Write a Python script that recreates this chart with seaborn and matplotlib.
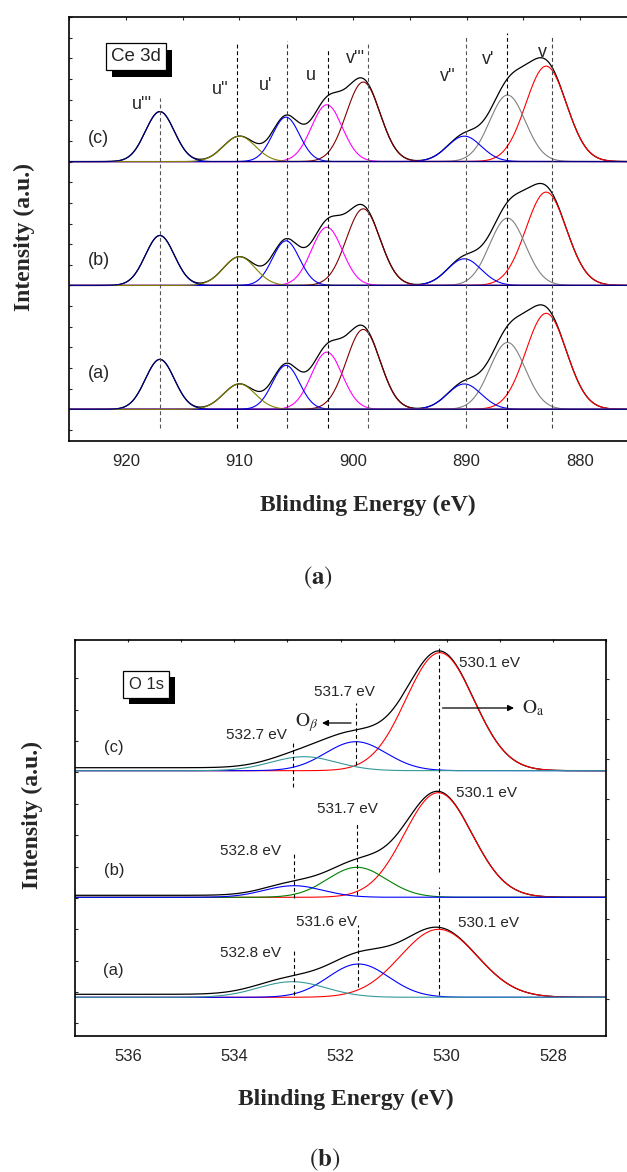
import numpy as np
import pandas as pd
import matplotlib
matplotlib.use('Agg')
import matplotlib.pyplot as plt
import seaborn as sns
from matplotlib.ticker import MultipleLocator, FixedLocator, NullFormatter
from matplotlib.patches import Rectangle

sns.set_theme(style='white')
plt.rcParams['font.family'] = ['Liberation Sans', 'DejaVu Sans']
plt.rcParams['mathtext.fontset'] = 'stix'

# ---------------- Ce 3d data ----------------
ce_labels = ["u'''", "u''", "u'", "u", "v'''", "v''", "v'", "v"]
ce_centers = [917.0, 910.0, 905.9, 902.3, 899.1, 890.2, 886.4, 883.0]
ce_fwhm = [3.0, 3.3, 2.8, 3.2, 3.5, 3.5, 3.7, 4.2]
ce_heights_a = [2.42, 1.23, 2.13, 2.77, 3.87, 1.23, 3.24, 4.65]
ce_heights_b = [2.42, 1.39, 2.16, 2.82, 3.71, 1.29, 3.26, 4.52]
ce_heights_c = [2.42, 1.23, 2.15, 2.75, 3.85, 1.23, 3.22, 4.62]
ce_baselines = [1.0, 7.0, 13.0]          # (a), (b), (c)
ce_sample_names = ['(a)', '(b)', '(c)']
ce_colors = ['#000080', '#808000', '#0000FF', '#FF00FF', '#800000', '#0000FF', '#808080', '#FF0000']
ce_line_pos = [916.99, 910.23, 905.83, 902.24, 898.68, 890.05, 886.46, 882.48]
ce_line_top = [16.08, 18.79, 18.84, 18.40, 18.74, 19.03, 19.22, 19.03]
ce_line_colors = ['#555555', '#000000', '#333333', '#000000', '#555555', '#555555', '#000000', '#444444']
ce_label_x = [918.57, 911.7, 907.66, 903.7, 899.82, 891.64, 888.12, 883.36]
ce_label_y = [15.74, 16.51, 16.66, 17.19, 18.01, 17.14, 17.92, 18.30]

# ---------------- O 1s data ----------------
o_sample_names = ['(a)', '(b)', '(c)']
o_baselines = [38.4, 138.4, 265.0]
o_centers = [[530.15, 531.66, 532.91], [530.16, 531.69, 532.88], [530.13, 531.71, 532.69]]
o_heights = [[68.0, 33.3, 15.6], [104.6, 30.0, 11.6], [118.0, 29.0, 14.0]]
o_fwhm = [[1.7, 1.35, 1.5], [1.5, 1.3, 1.3], [1.5, 1.35, 1.45]]
o_colors = [['#FF0000', '#0000FF', '#339999'], ['#FF0000', '#008000', '#0000FF'], ['#FF0000', '#0000FF', '#339999']]
o_bg = [3.0, 2.0, 3.0]
o_peak_labels = [['530.1 eV', '531.6 eV', '532.8 eV'], ['530.1 eV', '531.7 eV', '532.8 eV'], ['530.1 eV', '531.7 eV', '532.7 eV']]
o_line_pos = [[530.15, 531.67, 532.88], [530.15, 531.69, 532.88], [530.15, 531.71, 532.90]]
o_line_y0 = [[40.7, 48.7, 40.7], [163.7, 140.7, 137.7], [263.7, 270.7, 249.0]]
o_line_y1 = [[148.7, 110.7, 86.7], [272.7, 212.7, 181.7], [390.7, 332.7, 294.0]]
o_label_x = [[529.79, 532.27, 533.69], [529.82, 531.86, 533.70], [529.77, 531.92, 533.59]]
o_label_y = [[112.7, 113.7, 82.7], [243.0, 226.7, 184.7], [373.0, 344.0, 300.7]]
o_label_ha = ['left', 'center', 'center']
o_name_y = [64.7, 165.7, 288.7]


def gauss(x, c, h, fwhm):
    s = fwhm / 2.3548
    return h * np.exp(-0.5 * ((x - c) / s) ** 2)


def shadow_box(fig, ax, txt, dx, dy):
    """Add a black drop-shadow rectangle behind a text's bbox (offset in pixels)."""
    fig.canvas.draw()
    bb = txt.get_bbox_patch().get_window_extent()
    inv = ax.transData.inverted()
    (x0, y0) = inv.transform((bb.x0 + dx, bb.y0 - dy))
    (x1, y1) = inv.transform((bb.x1 + dx, bb.y1 - dy))
    ax.add_patch(Rectangle((x0, y0), x1 - x0, y1 - y0, fc='black', ec='black', lw=0, zorder=4))


W, H = 627, 1172
fig = plt.figure(figsize=(W / 100, H / 100), dpi=100)

# ====== top panel (Ce 3d) ======
L1, R1, T1, B1 = 69, 667, 17, 441
ax1 = fig.add_axes([L1 / W, 1 - B1 / H, (R1 - L1) / W, (B1 - T1) / H])
E1 = np.linspace(872.0, 925.5, 1400)
ce_heights = [ce_heights_a, ce_heights_b, ce_heights_c]
order = [7, 6, 5, 4, 3, 2, 1, 0]
for si, (base, hts) in enumerate(zip(ce_baselines, ce_heights)):
    comps = [gauss(E1, c, h, w) for c, h, w in zip(ce_centers, hts, ce_fwhm)]
    total = np.sum(comps, axis=0)
    sns.lineplot(x=E1, y=base + total, ax=ax1, color='black', lw=0.9, estimator=None)
    for k in order:
        sns.lineplot(x=E1, y=base + comps[k], ax=ax1, color=ce_colors[k], lw=0.8, estimator=None)
    ax1.text(922.4, base + [1.76, 1.23, 1.14][si], ce_sample_names[si], fontsize=13,
             ha='center', va='center')
for xp, top, col in zip(ce_line_pos, ce_line_top, ce_line_colors):
    ax1.plot([xp, xp], [0.1, top], color=col, lw=0.8, ls=(0, (3.5, 2.5)))
for lab, x, y in zip(ce_labels, ce_label_x, ce_label_y):
    ax1.text(x, y, lab, fontsize=13, ha='center', va='center')

ax1.set_xlim(925, 925 - (R1 - L1) / 11.36)
ax1.set_ylim(-11 / 20.65, 20.0)
ax1.xaxis.set_major_locator(MultipleLocator(10))
ax1.xaxis.set_minor_locator(MultipleLocator(5))
ax1.yaxis.set_major_locator(MultipleLocator(1))
ax1.yaxis.set_major_formatter(NullFormatter())
ax1.tick_params(axis='x', which='major', direction='out', length=5.5, width=1.0, labelsize=12, pad=4)
ax1.tick_params(axis='x', which='minor', direction='out', length=2.8, width=1.0)
ax1.tick_params(axis='y', which='major', direction='in', length=2.5, width=0.8, left=True)
secx1 = ax1.secondary_xaxis('top')
secx1.xaxis.set_major_locator(MultipleLocator(5))
secx1.xaxis.set_major_formatter(NullFormatter())
secx1.tick_params(direction='in', length=2.5, width=0.8)
secx1.spines['top'].set_visible(False)
for sp in ax1.spines.values():
    sp.set_color('black')
    sp.set_linewidth(1.2)
ax1.set_xlabel('Blinding Energy (eV)', fontsize=17, fontweight='bold', family='Liberation Serif')
ax1.xaxis.set_label_coords(0.5, -0.151)
ax1.xaxis.label.set_va('center')
ax1.set_ylabel('Intensity (a.u.)', fontsize=17, fontweight='bold', family='Liberation Serif')
ax1.yaxis.set_label_coords((24 - L1) / (R1 - L1), 0.48)
ax1.yaxis.label.set_va('center')
ax1.set_facecolor('white')

fig.text(318 / W, 1 - 578 / H, r'$(\mathbf{a})$', fontsize=18, ha='center', va='center')

# ====== bottom panel (O 1s) ======
L2, R2, T2, B2 = 75, 606, 639.5, 1035.7
ax2 = fig.add_axes([L2 / W, 1 - B2 / H, (R2 - L2) / W, (B2 - T2) / H])
E2 = np.linspace(527.0, 537.0, 1200)
for si in range(3):
    base = o_baselines[si]
    comps = [gauss(E2, c, h, w) for c, h, w in zip(o_centers[si], o_heights[si], o_fwhm[si])]
    total = np.sum(comps, axis=0)
    cum = np.cumsum(total)
    bg = o_bg[si] * cum / cum[-1]
    sns.lineplot(x=E2, y=base + total + bg, ax=ax2, color='black', lw=0.9, estimator=None)
    for k in [0, 1, 2]:
        sns.lineplot(x=E2, y=base + comps[k], ax=ax2, color=o_colors[si][k], lw=0.8, estimator=None)
    for k in range(3):
        ax2.plot([o_line_pos[si][k]] * 2, [o_line_y0[si][k], o_line_y1[si][k]], color='black',
                 lw=0.8, ls=(0, (3.5, 2.5)))
        ax2.text(o_label_x[si][k], o_label_y[si][k], o_peak_labels[si][k], fontsize=11,
                 ha=o_label_ha[k], va='center')
    ax2.text(536.27, o_name_y[si], o_sample_names[si], fontsize=12, ha='center', va='center')

# O_beta and O_a arrows
ax2.annotate('', xy=(532.40, 312.7), xytext=(531.75, 312.7),
             arrowprops=dict(arrowstyle='-|>', color='black', lw=0.9, mutation_scale=9))
ax2.text(532.42, 312.7, r'$\mathrm{O}_{\beta}$', fontsize=14, ha='right', va='center')
ax2.annotate('', xy=(528.68, 327.7), xytext=(530.13, 327.7),
             arrowprops=dict(arrowstyle='-|>', color='black', lw=0.9, mutation_scale=9))
ax2.text(528.58, 327.7, r'$\mathrm{O}_{\mathrm{a}}$', fontsize=14, ha='left', va='center')

ax2.set_xlim(537, 527)
ax2.set_ylim(0, B2 - T2)
ax2.xaxis.set_major_locator(MultipleLocator(2))
ax2.xaxis.set_minor_locator(MultipleLocator(1))
ax2.yaxis.set_major_locator(FixedLocator(list(12.4 + 31.36 * np.arange(12))))
ax2.yaxis.set_major_formatter(NullFormatter())
ax2.tick_params(axis='x', which='major', direction='out', length=5.5, width=1.0, labelsize=12, pad=4)
ax2.tick_params(axis='x', which='minor', direction='out', length=2.8, width=1.0)
ax2.tick_params(axis='y', which='major', direction='in', length=2.5, width=0.8, left=True)
secx2 = ax2.secondary_xaxis('top')
secx2.xaxis.set_major_locator(MultipleLocator(1))
secx2.xaxis.set_major_formatter(NullFormatter())
secx2.tick_params(direction='in', length=2.5, width=0.8)
secx2.spines['top'].set_visible(False)
sec = ax2.secondary_yaxis('right')
sec.yaxis.set_major_locator(FixedLocator(list(356.7 - 40 * np.arange(9))))
sec.yaxis.set_major_formatter(NullFormatter())
sec.tick_params(direction='out', length=2.5, width=0.8)
sec.spines['right'].set_visible(False)
for sp in ax2.spines.values():
    sp.set_color('black')
    sp.set_linewidth(1.2)
ax2.set_xlabel('Blinding Energy (eV)', fontsize=17, fontweight='bold', family='Liberation Serif')
ax2.xaxis.set_label_coords((346 - L2) / (R2 - L2), (B2 - 1099) / (B2 - T2))
ax2.xaxis.label.set_va('center')
ax2.set_ylabel('Intensity (a.u.)', fontsize=17, fontweight='bold', family='Liberation Serif')
ax2.yaxis.set_label_coords((32 - L2) / (R2 - L2), (B2 - 815) / (B2 - T2))
ax2.yaxis.label.set_va('center')
ax2.set_facecolor('white')

fig.text(325 / W, 1 - 1160 / H, r'$(\mathbf{b})$', fontsize=18, ha='center', va='center')

# boxed titles with drop shadows
t1 = ax1.text(919.1, 18.09, 'Ce 3d', fontsize=13.5, ha='center', va='center', zorder=5,
              bbox=dict(boxstyle='square,pad=0.25', fc='white', ec='black', lw=0.9))
t2 = ax2.text(535.66, 351.2, 'O 1s', fontsize=12, ha='center', va='center', zorder=5,
              bbox=dict(boxstyle='square,pad=0.35', fc='white', ec='black', lw=0.9))
shadow_box(fig, ax1, t1, 6, 7)
shadow_box(fig, ax2, t2, 6, 6)

fig.savefig('out.png', dpi=100, facecolor='white')
